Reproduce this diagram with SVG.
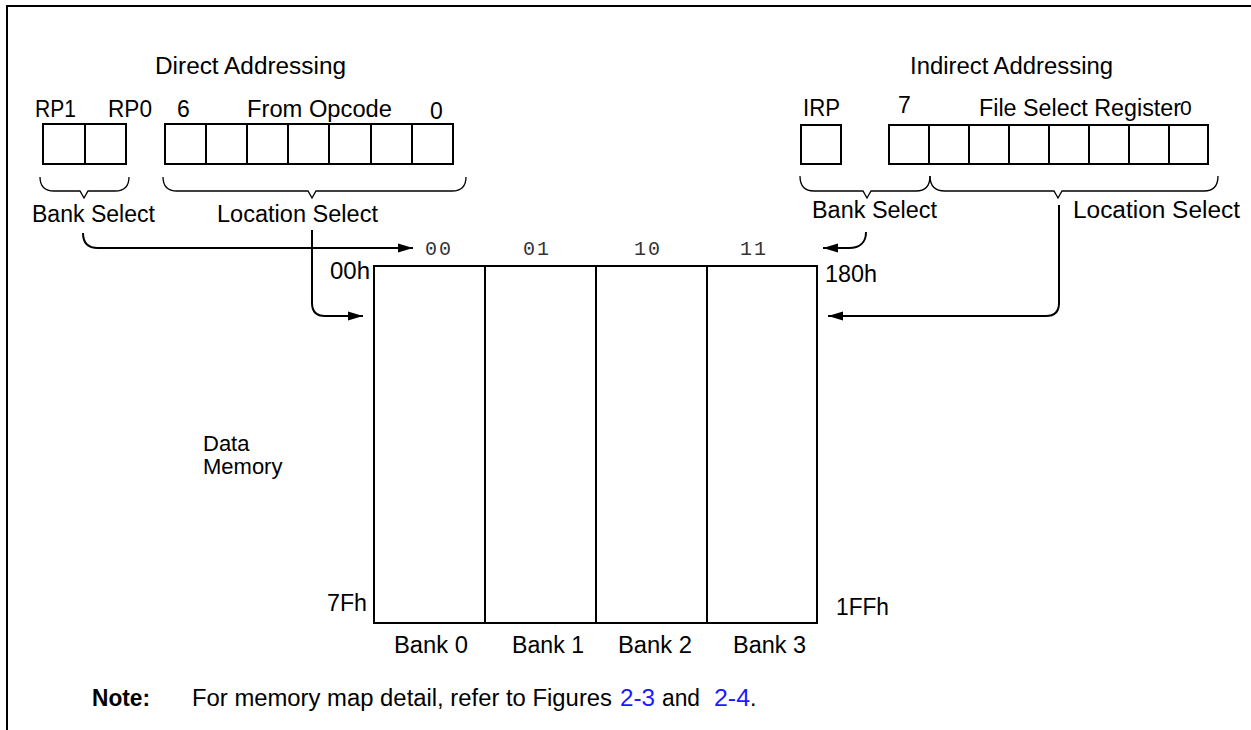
<svg xmlns="http://www.w3.org/2000/svg" width="1251" height="730" viewBox="0 0 1251 730">
<defs>
<style>
.t{font-family:"Liberation Sans",Arial,sans-serif;font-size:23px;fill:#000}
.b{font-weight:bold}
.m{font-family:"Liberation Mono","Courier New",monospace;font-size:20px;fill:#333;letter-spacing:2px}
.lnk{fill:#1a1aff}
.box{fill:#fff;stroke:#000;stroke-width:2}
.br{fill:none;stroke:#000;stroke-width:1.3}
.con{fill:none;stroke:#000;stroke-width:2}
.frame{fill:none;stroke:#000;stroke-width:2}
</style>
<marker id="ah" markerUnits="userSpaceOnUse" markerWidth="16" markerHeight="10" refX="15" refY="5" orient="auto">
<path d="M0,0.5 L15,5 L0,9.5 z" fill="#000"/>
</marker>
</defs>
<rect width="1251" height="730" fill="#fff"/>
<path class="frame" d="M7,730 L7,6 L1251,6"/>

<g id="direct-title"><text class="t" x="155" y="74" textLength="191" lengthAdjust="spacingAndGlyphs">Direct Addressing</text></g>
<g id="indirect-title"><text class="t" x="910" y="74" textLength="203" lengthAdjust="spacingAndGlyphs">Indirect Addressing</text></g>

<g id="rp-register">
<text class="t" x="35" y="117" textLength="41" lengthAdjust="spacingAndGlyphs">RP1</text>
<text class="t" x="108" y="117" textLength="44" lengthAdjust="spacingAndGlyphs">RP0</text>
<rect class="box" x="43" y="124" width="83" height="40"/>
<line x1="85" y1="124" x2="85" y2="164" stroke="#000" stroke-width="2"/>
</g>

<g id="opcode-register">
<text class="t" x="177" y="117">6</text>
<text class="t" x="247" y="117" textLength="145" lengthAdjust="spacingAndGlyphs">From Opcode</text>
<text class="t" x="430" y="119">0</text>
<rect class="box" x="165" y="124" width="288" height="40"/>
<path d="M206,124V164M247,124V164M288,124V164M329,124V164M371,124V164M412,124V164" stroke="#000" stroke-width="2"/>
</g>

<g id="irp-register">
<text class="t" x="803" y="116" textLength="37" lengthAdjust="spacingAndGlyphs">IRP</text>
<rect class="box" x="801" y="125" width="40" height="39"/>
</g>

<g id="fsr-register">
<text class="t" x="898" y="113">7</text>
<text class="t" x="979" y="116" textLength="202" lengthAdjust="spacingAndGlyphs">File Select Register</text>
<text class="t" x="1180" y="115" style="font-size:21px">0</text>
<rect class="box" x="889" y="125" width="319" height="39"/>
<path d="M929,125V164M969,125V164M1009,125V164M1049,125V164M1089,125V164M1129,125V164M1169,125V164" stroke="#000" stroke-width="2"/>
</g>

<g id="braces">
<path class="br" d="M40,177 C40,186 44,191 54,191 L80,191 L84,198 L88,191 L115,191 C125,191 129,186 129,177"/>
<path class="br" d="M163,177 C163,186 167,191 177,191 L308,191 L312,198 L316,191 L452,191 C462,191 466,186 466,177"/>
<path class="br" d="M800,176 C800,186 804,191 814,191 L863,191 L867,198 L871,191 L916,191 C926,191 930,186 930,176"/>
<path class="br" d="M930,176 C930,186 935,191 945,191 L1054,191 L1058,198 L1062,191 L1204,191 C1214,191 1218,186 1218,176"/>
</g>

<g id="select-labels">
<text class="t" x="32" y="222" textLength="123" lengthAdjust="spacingAndGlyphs">Bank Select</text>
<text class="t" x="217" y="222" textLength="161" lengthAdjust="spacingAndGlyphs">Location Select</text>
<text class="t" x="812" y="218" textLength="125" lengthAdjust="spacingAndGlyphs">Bank Select</text>
<text class="t" x="1073" y="218" textLength="167" lengthAdjust="spacingAndGlyphs">Location Select</text>
</g>

<g id="connectors">
<path class="con" marker-end="url(#ah)" d="M83,233 C83,243 88,248 98,248 L413,248"/>
<path class="con" marker-end="url(#ah)" d="M312,230 L312,303 Q312,316 325,316 L363,316"/>
<path class="con" marker-end="url(#ah)" d="M866,232 C866,242 860,248 849,248 L823,248"/>
<path class="con" marker-end="url(#ah)" d="M1059,205 L1059,303 Q1059,316 1046,316 L828,316"/>
</g>

<g id="data-memory">
<rect class="box" x="374" y="266" width="443" height="357"/>
<path d="M485,266V623M596,266V623M707,266V623" stroke="#000" stroke-width="2"/>
<text class="m" x="425" y="255">00</text>
<text class="m" x="523" y="255">01</text>
<text class="m" x="634" y="255">10</text>
<text class="m" x="740" y="255">11</text>
<text class="t" x="330" y="279" textLength="40" lengthAdjust="spacingAndGlyphs">00h</text>
<text class="t" x="825" y="282" textLength="52" lengthAdjust="spacingAndGlyphs">180h</text>
<text class="t" x="327" y="611" textLength="40" lengthAdjust="spacingAndGlyphs">7Fh</text>
<text class="t" x="836" y="615" textLength="53" lengthAdjust="spacingAndGlyphs">1FFh</text>
<text class="t" x="394" y="653" textLength="74" lengthAdjust="spacingAndGlyphs">Bank 0</text>
<text class="t" x="512" y="653" textLength="72" lengthAdjust="spacingAndGlyphs">Bank 1</text>
<text class="t" x="618" y="653" textLength="74" lengthAdjust="spacingAndGlyphs">Bank 2</text>
<text class="t" x="733" y="653" textLength="73" lengthAdjust="spacingAndGlyphs">Bank 3</text>
<text class="t" x="203" y="451" style="font-size:22px">Data</text>
<text class="t" x="203" y="474" style="font-size:22px">Memory</text>
</g>

<g id="note">
<text class="t b" x="92" y="706" textLength="58" lengthAdjust="spacingAndGlyphs">Note:</text>
<text class="t" x="192" y="706" textLength="420" lengthAdjust="spacingAndGlyphs">For memory map detail, refer to Figures</text>
<text class="t lnk" x="620" y="706" textLength="35" lengthAdjust="spacingAndGlyphs">2-3</text>
<text class="t" x="662" y="706" textLength="38" lengthAdjust="spacingAndGlyphs">and</text>
<text class="t lnk" x="714" y="706" textLength="36" lengthAdjust="spacingAndGlyphs">2-4</text>
<text class="t" x="750" y="706">.</text>
</g>
</svg>
